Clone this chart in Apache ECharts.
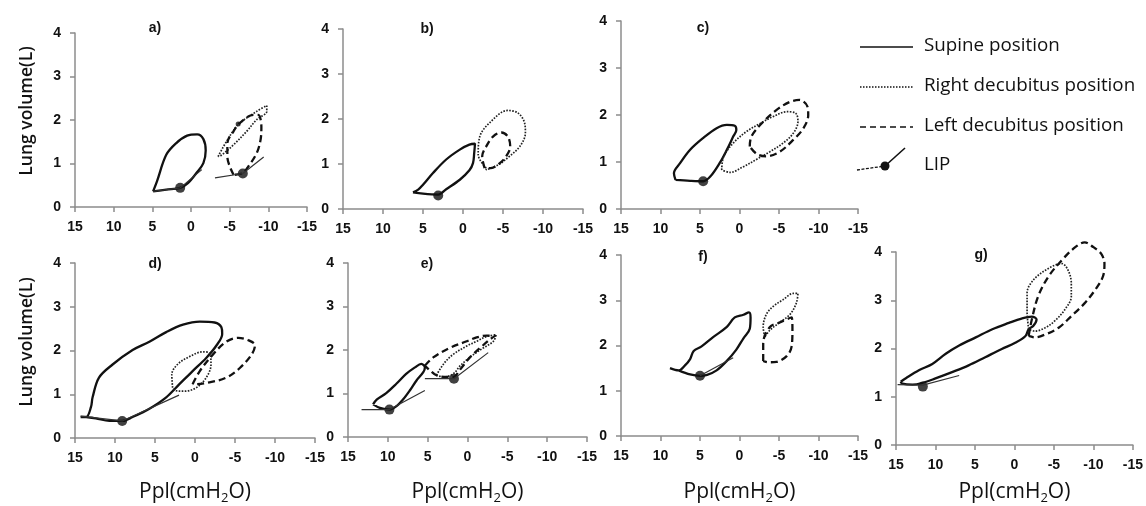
<!DOCTYPE html>
<html><head><meta charset="utf-8">
<script src="https://cdn.jsdelivr.net/npm/echarts@6/dist/echarts.min.js"></script>
<style>html,body{margin:0;padding:0;background:#fff}#c{width:1146px;height:506px}</style>
</head><body><div id="c"></div><script>
// ---- labels ----
const panelLabels = ['a)', 'b)', 'c)', 'd)', 'e)', 'f)', 'g)'];
const legendNames = ['Supine position', 'Right decubitus position', 'Left decubitus position', 'LIP'];
const yAxisTitle = 'Lung volume(L)';
const xAxisTitle = 'Ppl(cmH{sub|2}O)';

// ---- panel a ----
const supineA = [[4.9,0.36],[4.4,0.59],[3.2,1.2],[1.9,1.47],[0.5,1.64],[-0.8,1.67],[-1.6,1.56],[-1.9,1.3],[-1.6,1.01],[-0.7,0.78],[0.4,0.55],[1.4,0.44],[3.2,0.4],[4.9,0.36]];
const rightA = [[-3.5,1.16],[-4.6,1.51],[-6.1,1.89],[-8.5,2.2],[-9.8,2.33],[-9.8,2.2],[-8.5,2.01],[-7.2,1.74],[-5.5,1.43],[-4.0,1.2],[-3.5,1.16]];
const leftA = [[-5.5,0.74],[-4.7,1.16],[-4.7,1.47],[-5.5,1.74],[-6.3,1.93],[-8.1,2.12],[-8.7,2.12],[-9.1,1.85],[-9.0,1.55],[-8.5,1.24],[-7.4,0.93],[-6.7,0.78],[-5.5,0.74]];
const lipLinesA = [[[4.9,0.36],[1.4,0.44],[-1.4,0.86]], [[-3.1,0.67],[-6.7,0.77],[-9.4,1.15]]];
const lipA = [[1.4,0.44],[-6.7,0.77]];
const lipSmallA = [[-6.1,1.91]];

// ---- panel b ----
const supineB = [[6.25,0.37],[5.6,0.43],[5.0,0.54],[3.75,0.8],[2.1,1.1],[0.4,1.32],[-0.8,1.43],[-1.5,1.45],[-1.4,1.24],[-1.25,1.02],[-0.8,0.86],[0.4,0.65],[2.1,0.44],[3.1,0.32],[5.0,0.34],[6.25,0.37]];
const rightB = [[-2.9,0.91],[-1.9,1.21],[-2.1,1.61],[-3.3,1.91],[-5.6,2.19],[-6.9,2.13],[-7.7,1.91],[-7.8,1.69],[-7.1,1.39],[-5.8,1.17],[-4.4,0.98],[-2.9,0.87],[-2.9,0.91]];
const leftB = [[-2.7,0.91],[-2.4,1.17],[-2.9,1.39],[-3.75,1.61],[-4.8,1.7],[-5.6,1.61],[-5.9,1.39],[-5.4,1.17],[-4.6,1.02],[-3.5,0.91],[-2.7,0.91]];
const lipLinesB = [];
const lipB = [[3.1,0.3]];

// ---- panel c ----
const supineC = [[8.1,0.62],[8.3,0.76],[7.5,0.98],[6.25,1.26],[4.6,1.51],[2.9,1.72],[1.6,1.79],[0.6,1.77],[0.4,1.68],[0.8,1.54],[1.6,1.26],[2.5,0.98],[3.7,0.69],[4.6,0.59],[6.25,0.6],[8.1,0.62]];
const rightC = [[2.25,0.83],[2.0,1.12],[0.8,1.4],[-0.9,1.65],[-2.6,1.82],[-4.3,1.97],[-6.0,2.07],[-7.1,2.04],[-7.4,1.86],[-6.8,1.61],[-5.5,1.4],[-3.85,1.22],[-2.2,1.06],[-0.5,0.9],[1.2,0.78],[2.25,0.83]];
const leftC = [[-1.3,1.33],[-1.5,1.54],[-2.8,1.82],[-4.7,2.11],[-6.4,2.28],[-7.6,2.32],[-8.6,2.18],[-8.7,2.0],[-8.1,1.72],[-6.8,1.47],[-5.1,1.22],[-3.4,1.12],[-2.2,1.17],[-1.3,1.33]];
const lipLinesC = [];
const lipC = [[4.6,0.59]];

// ---- panel d ----
const supineD = [[14.3,0.48],[13.6,0.48],[13.0,0.71],[12.8,0.93],[12.0,1.38],[10.3,1.68],[7.8,2.01],[5.7,2.2],[3.6,2.42],[1.5,2.59],[-0.6,2.66],[-2.45,2.64],[-3.3,2.53],[-3.4,2.38],[-2.7,2.12],[-1.4,1.83],[0.3,1.53],[1.95,1.23],[3.6,0.93],[5.7,0.67],[7.8,0.48],[9.1,0.39],[10.7,0.39],[12.4,0.45],[13.6,0.48]];
const rightD = [[2.8,1.15],[2.9,1.45],[2.2,1.68],[0.7,1.86],[-1.0,1.97],[-1.8,1.94],[-2.0,1.68],[-1.4,1.38],[-0.15,1.15],[1.3,1.07],[2.4,1.08],[2.8,1.15]];
const leftD = [[0.3,1.23],[-0.6,1.53],[-2.2,1.9],[-3.9,2.2],[-5.4,2.29],[-6.6,2.24],[-7.5,2.12],[-7.05,1.9],[-5.6,1.6],[-3.9,1.38],[-1.8,1.27],[-0.15,1.23],[0.3,1.23]];
const lipLinesD = [[[14.3,0.5],[9.1,0.39],[2.0,0.98]]];
const lipD = [[9.1,0.39]];

// ---- panel e ----
const supineE = [[11.85,0.75],[11.4,0.86],[10.2,1.01],[8.9,1.23],[7.7,1.45],[6.6,1.6],[5.8,1.68],[5.35,1.6],[5.55,1.49],[6.4,1.3],[7.2,1.08],[8.1,0.86],[8.9,0.71],[9.8,0.63],[11.0,0.67],[11.85,0.75]];
const rightE = [[3.9,1.42],[3.0,1.68],[1.8,1.9],[0.1,2.09],[-1.15,2.2],[-2.4,2.31],[-3.6,2.35],[-3.25,2.2],[-2.0,2.05],[-0.5,1.86],[0.9,1.64],[1.8,1.45],[3.0,1.38],[3.9,1.42]];
const leftE = [[5.35,1.64],[4.3,1.83],[2.2,2.05],[0.1,2.2],[-1.15,2.29],[-2.4,2.33],[-3.5,2.33],[-2.8,2.24],[-1.6,2.05],[-0.3,1.83],[0.9,1.56],[1.8,1.38],[2.6,1.38],[3.9,1.42],[4.7,1.53],[5.35,1.64]];
const lipLinesE = [[[13.3,0.63],[9.8,0.63],[5.35,1.07]], [[5.35,1.34],[1.7,1.34],[-2.6,1.94]]];
const lipE = [[9.8,0.63],[1.7,1.34]];

// ---- panel f ----
const supineF = [[8.8,1.5],[7.7,1.45],[6.9,1.56],[6.25,1.7],[5.8,1.88],[4.8,1.98],[3.3,2.19],[1.6,2.41],[0.6,2.62],[-0.5,2.68],[-1.2,2.73],[-1.4,2.62],[-1.3,2.37],[-0.5,2.16],[0.4,1.91],[1.6,1.66],[2.9,1.45],[4.1,1.35],[5.0,1.33],[6.25,1.36],[7.7,1.45]];
const rightF = [[-3.2,2.19],[-3.0,2.41],[-3.4,2.69],[-4.3,2.87],[-5.5,3.01],[-6.8,3.15],[-7.4,3.15],[-7.2,2.94],[-6.4,2.69],[-5.1,2.51],[-3.85,2.34],[-3.2,2.19]];
const leftF = [[-3.0,1.66],[-3.0,2.05],[-3.85,2.41],[-5.1,2.51],[-6.6,2.62],[-6.7,2.34],[-6.6,1.98],[-6.0,1.77],[-4.7,1.64],[-3.6,1.63],[-3.0,1.66]];
const lipLinesF = [[[5.0,1.33],[0.8,1.73]]];
const lipF = [[5.0,1.33]];

// ---- panel g ----
const supineG = [[14.4,1.31],[13.7,1.39],[12.1,1.55],[10.4,1.68],[8.7,1.89],[7.0,2.06],[4.9,2.23],[2.8,2.4],[0.7,2.53],[-0.9,2.62],[-2.2,2.66],[-2.8,2.6],[-2.4,2.47],[-1.8,2.4],[-1.4,2.26],[-0.1,2.12],[1.6,1.99],[3.7,1.82],[5.8,1.65],[7.9,1.51],[10.0,1.38],[11.6,1.29],[12.9,1.25],[14.2,1.27],[14.4,1.31]];
const rightG = [[-1.8,2.4],[-1.6,2.77],[-1.6,3.15],[-2.4,3.42],[-4.3,3.66],[-6.0,3.76],[-6.8,3.62],[-7.2,3.35],[-7.2,3.08],[-6.4,2.81],[-5.1,2.57],[-3.9,2.43],[-2.6,2.36],[-1.8,2.4]];
const leftG = [[-1.8,2.26],[-2.2,2.6],[-3.0,3.08],[-4.3,3.49],[-6.0,3.83],[-7.7,4.1],[-8.9,4.2],[-10.0,4.1],[-11.0,3.96],[-11.4,3.76],[-11.2,3.49],[-10.2,3.21],[-8.9,2.94],[-7.2,2.67],[-5.6,2.43],[-3.9,2.29],[-2.6,2.23],[-1.8,2.26]];
const lipLinesG = [[[14.8,1.25],[11.6,1.24],[7.0,1.44]]];
const lipG = [[11.6,1.21]];

// ---- layout (not data) ----
const gridBoxes = [
  {left: 75, top: 33, width: 232, height: 174},
  {left: 343, top: 29, width: 240, height: 180},
  {left: 621, top: 21, width: 237, height: 188},
  {left: 75, top: 263, width: 240, height: 179},
  {left: 348, top: 263, width: 239, height: 179},
  {left: 621, top: 255, width: 237, height: 188},
  {left: 896, top: 252, width: 238, height: 195}
];
const titlePos = [[155,28],[427,29],[703,28],[155,264],[427,264],[703,257],[981,255]];
const xNameGap = [0, 0, 0, 42, 43, 44, 35];

const panels = [
  {s: supineA, r: rightA, l: leftA, lines: lipLinesA, lip: lipA},
  {s: supineB, r: rightB, l: leftB, lines: lipLinesB, lip: lipB},
  {s: supineC, r: rightC, l: leftC, lines: lipLinesC, lip: lipC},
  {s: supineD, r: rightD, l: leftD, lines: lipLinesD, lip: lipD},
  {s: supineE, r: rightE, l: leftE, lines: lipLinesE, lip: lipE},
  {s: supineF, r: rightF, l: leftF, lines: lipLinesF, lip: lipF},
  {s: supineG, r: rightG, l: leftG, lines: lipLinesG, lip: lipG}
];

const TICKFONT = 'Liberation Sans';
const FONT = 'Open Sans';
const INK = '#111';
const AXIS = '#8c8c8c';

const xAxes = [], yAxes = [], series = [];
panels.forEach((p, i) => {
  const bottomRow = i >= 3;
  xAxes.push({
    type: 'value', gridIndex: i, min: -15, max: 15, interval: 5, inverse: true,
    axisLine: {show: true, onZero: false, lineStyle: {color: AXIS, width: 1.5}},
    axisTick: {show: true, length: 5, lineStyle: {color: AXIS, width: 1.5}},
    splitLine: {show: false},
    axisLabel: {color: INK, fontFamily: TICKFONT, fontWeight: 'bold', fontSize: 14, margin: 13},
    name: bottomRow ? xAxisTitle : '',
    nameLocation: 'middle', nameGap: xNameGap[i],
    nameTextStyle: {color: INK, fontFamily: FONT, fontSize: 21, fontWeight: 500,
      rich: {sub: {fontFamily: FONT, fontSize: 13, fontWeight: 500, color: INK, padding: [12, 0, 0, 0]}}}
  });
  yAxes.push({
    type: 'value', gridIndex: i, min: 0, max: 4, interval: 1,
    axisLine: {show: true, onZero: false, lineStyle: {color: AXIS, width: 1.5}},
    axisTick: {show: true, length: 5, lineStyle: {color: AXIS, width: 1.5}},
    splitLine: {show: false},
    axisLabel: {color: INK, fontFamily: TICKFONT, fontWeight: 'bold', fontSize: 14, margin: 14}
  });
  const base = {type: 'line', xAxisIndex: i, yAxisIndex: i, symbol: 'none', clip: false,
    silent: true, animation: false, smooth: 0.35};
  series.push(Object.assign({}, base, {name: legendNames[0], data: p.s,
    lineStyle: {color: INK, width: 2.3, type: 'solid'}}));
  series.push(Object.assign({}, base, {name: legendNames[1], data: p.r,
    lineStyle: {color: '#222', width: 1.7, type: [1.6, 1.4]}}));
  series.push(Object.assign({}, base, {name: legendNames[2], data: p.l,
    lineStyle: {color: INK, width: 2.3, type: [7, 4]}}));
  p.lines.forEach(ln => {
    series.push(Object.assign({}, base, {name: 'LIP line', data: ln, smooth: false,
      lineStyle: {color: '#333', width: 1.2, type: 'solid'}}));
  });
  series.push({type: 'scatter', xAxisIndex: i, yAxisIndex: i, name: legendNames[3],
    data: p.lip, symbol: 'circle', symbolSize: 10, silent: true, animation: false,
    itemStyle: {color: INK}});
  if (i === 0) {
    series.push({type: 'scatter', xAxisIndex: i, yAxisIndex: i, name: legendNames[3],
      data: lipSmallA, symbol: 'circle', symbolSize: 5, silent: true, animation: false,
      itemStyle: {color: INK}});
  }
});

const graphics = [];
panelLabels.forEach((t, i) => {
  graphics.push({type: 'text', x: titlePos[i][0], y: titlePos[i][1],
    style: {text: t, fill: INK, font: 'bold 14px "' + TICKFONT + '"', align: 'center', verticalAlign: 'middle'}});
});
// y-axis titles
[[27, 111], [27, 342]].forEach(pt => {
  graphics.push({type: 'text', x: pt[0], y: pt[1], rotation: Math.PI / 2,
    style: {text: yAxisTitle, fill: INK, font: '600 17.5px "' + FONT + '"', align: 'center', verticalAlign: 'middle'}});
});
// legend
const legY = [47, 87, 127, 166];
const legFont = '500 18.8px "' + FONT + '"';
graphics.push({type: 'line', shape: {x1: 860, y1: legY[0], x2: 913, y2: legY[0]}, style: {stroke: INK, lineWidth: 1.6}});
graphics.push({type: 'line', shape: {x1: 860, y1: legY[1], x2: 913, y2: legY[1]}, style: {stroke: INK, lineWidth: 1.5, lineDash: [1.5, 1.5]}});
graphics.push({type: 'line', shape: {x1: 860, y1: legY[2], x2: 913, y2: legY[2]}, style: {stroke: INK, lineWidth: 1.6, lineDash: [6, 4]}});
graphics.push({type: 'line', shape: {x1: 857, y1: 170, x2: 885, y2: 166}, style: {stroke: INK, lineWidth: 1.3, lineDash: [3, 1.5]}});
graphics.push({type: 'line', shape: {x1: 885, y1: 166, x2: 905, y2: 148}, style: {stroke: INK, lineWidth: 1.6}});
graphics.push({type: 'circle', shape: {cx: 885, cy: 166, r: 4.5}, style: {fill: INK}});
legendNames.forEach((n, k) => {
  graphics.push({type: 'text', x: 924, y: legY[k] - 1,
    style: {text: n, fill: INK, font: legFont, verticalAlign: 'middle'}});
});

const chart = echarts.init(document.getElementById('c'), null, {renderer: 'canvas'});
chart.setOption({
  animation: false,
  backgroundColor: '#fff',
  grid: gridBoxes.map(g => Object.assign({containLabel: false}, g)),
  xAxis: xAxes,
  yAxis: yAxes,
  series: series,
  graphic: graphics
});
</script></body></html>
